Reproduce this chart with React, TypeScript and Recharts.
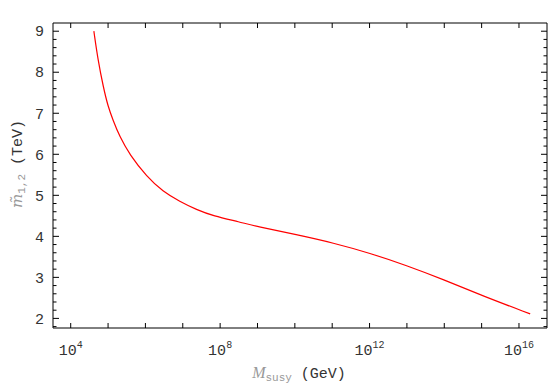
import { LineChart, Line, XAxis, YAxis } from 'recharts';

// curve: log10(M_susy / GeV) vs m~_{1,2} in TeV
const logMsusy = [4.62, 4.73, 4.87, 5.0, 5.13, 5.31, 5.58, 6.03, 6.47, 6.92, 7.37, 7.81, 8.53, 8.98, 10.05, 11.03, 12.01, 12.99, 13.97, 15.05, 16.3];
const mTilde12 = [9.0, 8.3, 7.65, 7.16, 6.84, 6.43, 5.99, 5.46, 5.09, 4.85, 4.65, 4.5, 4.35, 4.24, 4.04, 3.84, 3.59, 3.29, 2.95, 2.54, 2.11];

const xTicks = [4, 5, 6, 7, 8, 9, 10, 11, 12, 13, 14, 15, 16];
const xLabelled = [4, 8, 12, 16];
const yTicks = [
  1.8, 2, 2.2, 2.4, 2.6, 2.8, 3, 3.2, 3.4, 3.6, 3.8, 4, 4.2, 4.4, 4.6, 4.8, 5,
  5.2, 5.4, 5.6, 5.8, 6, 6.2, 6.4, 6.6, 6.8, 7, 7.2, 7.4, 7.6, 7.8, 8, 8.2, 8.4,
  8.6, 8.8, 9,
];

const X_DOMAIN: [number, number] = [3.526, 16.75];
const Y_DOMAIN: [number, number] = [1.766, 9.2];

const data = logMsusy.map((x, i) => ({ x, m: mTilde12[i] }));

const TICK_FONT = '"Liberation Mono", "DejaVu Sans Mono", monospace';
const TEXT = '#333';
const GREY = '#999';

const isMajor = (v: number) => Math.abs(v - Math.round(v)) < 1e-6;

function BottomTick({ x, y, payload }: any) {
  const v = payload.value;
  return (
    <g>
      <line x1={x} x2={x} y1={y} y2={y - 5} stroke="#000" />
      {xLabelled.includes(v) && (
        <text x={x} y={y + 27} textAnchor="middle" fontFamily={TICK_FONT} fontSize={15} fill={TEXT}>
          <tspan>10</tspan>
          <tspan dy={-7} fontSize={10}>{v}</tspan>
        </text>
      )}
    </g>
  );
}

function TopTick({ x, y }: any) {
  return <line x1={x} x2={x} y1={y} y2={y + 5} stroke="#000" />;
}

function LeftTick({ x, y, payload }: any) {
  const v = payload.value;
  const major = isMajor(v);
  return (
    <g>
      <line x1={x} x2={x + (major ? 6 : 3.5)} y1={y} y2={y} stroke="#000" />
      {major && (
        <text x={x - 9} y={y} dy="0.35em" textAnchor="end" fontFamily={TICK_FONT} fontSize={15} fill={TEXT}>
          {v}
        </text>
      )}
    </g>
  );
}

function RightTick({ x, y, payload }: any) {
  const major = isMajor(payload.value);
  return <line x1={x} x2={x - (major ? 6 : 3.5)} y1={y} y2={y} stroke="#000" />;
}

export default function App() {
  return (
    <div style={{ position: 'relative', width: 548, height: 387, background: '#fff' }}>
      <style>{'body { margin: 0; }'}</style>
      <LineChart width={548} height={387} data={data} margin={{ top: 22, right: 0, bottom: 29, left: 0 }}>
        <XAxis
          dataKey="x"
          type="number"
          domain={X_DOMAIN}
          allowDataOverflow
          ticks={xTicks}
          interval={0}
          tick={BottomTick}
          tickLine={false}
          tickSize={0}
          tickMargin={0}
          height={30}
          stroke="#000"
        />
        <XAxis
          xAxisId="top"
          orientation="top"
          dataKey="x"
          type="number"
          domain={X_DOMAIN}
          allowDataOverflow
          ticks={xTicks}
          interval={0}
          tick={TopTick}
          tickLine={false}
          tickSize={0}
          tickMargin={0}
          height={1}
          stroke="#000"
        />
        <YAxis
          type="number"
          domain={Y_DOMAIN}
          allowDataOverflow
          ticks={yTicks}
          interval={0}
          tick={LeftTick}
          tickLine={false}
          tickSize={0}
          tickMargin={0}
          width={53}
          stroke="#000"
        />
        <YAxis
          yAxisId="right"
          orientation="right"
          type="number"
          domain={Y_DOMAIN}
          allowDataOverflow
          ticks={yTicks}
          interval={0}
          tick={RightTick}
          tickLine={false}
          tickSize={0}
          tickMargin={0}
          width={1}
          stroke="#000"
        />
        {/* invisible series so the mirrored top/right axes get drawn */}
        <Line
          xAxisId="top"
          yAxisId="right"
          dataKey="m"
          stroke="none"
          dot={false}
          isAnimationActive={false}
        />
        <Line
          type="basis"
          dataKey="m"
          stroke="#ff0000"
          strokeWidth={1.2}
          dot={false}
          isAnimationActive={false}
        />
      </LineChart>
      <svg width={548} height={387} style={{ position: 'absolute', left: 0, top: 0, pointerEvents: 'none' }}>
        <text x={299} y={378} textAnchor="middle" fontFamily={TICK_FONT} fontSize={15} fill={TEXT}>
          <tspan fontFamily='"Liberation Serif", serif' fontStyle="italic" fill={GREY} fontSize={16}>M</tspan>
          <tspan dy={3} fontSize={11} fill={GREY}>susy</tspan>
          <tspan dy={-3} dx={9}>(GeV)</tspan>
        </text>
        <text
          x={22}
          y={164}
          transform="rotate(-90 22 164)"
          textAnchor="middle"
          fontFamily={TICK_FONT}
          fontSize={15}
          fill={TEXT}
        >
          <tspan fontFamily='"DejaVu Serif", serif' fontStyle="italic" fill={GREY} fontSize={15}>m̃</tspan>
          <tspan dy={3} fontSize={11} fill={GREY}>1,2</tspan>
          <tspan dy={-3} dx={9}>(TeV)</tspan>
        </text>
      </svg>
    </div>
  );
}
